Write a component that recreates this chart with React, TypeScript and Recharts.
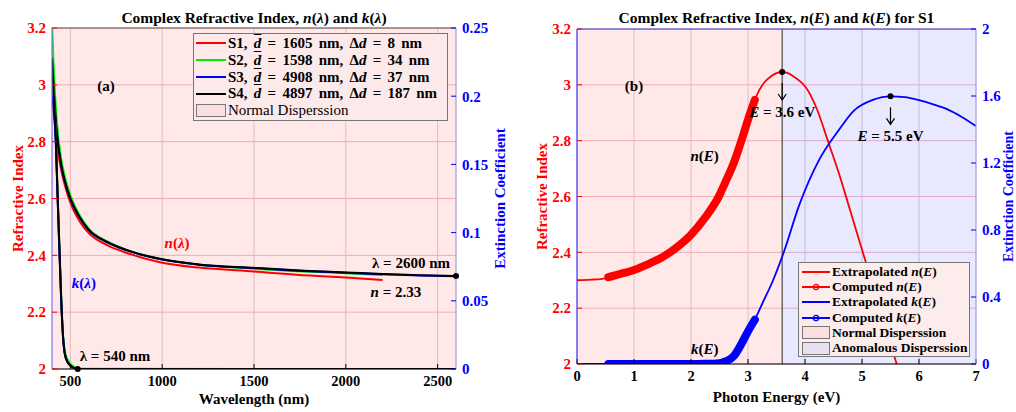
import React from 'react';
import {
  ComposedChart, Line, XAxis, YAxis, CartesianGrid, ReferenceArea,
  ReferenceLine, ReferenceDot, Legend,
} from 'recharts';

const FONT = '"Liberation Serif", "Times New Roman", Times, serif';
const RED = '#ff0000';
const BLUE = '#0000ff';
const GREEN = '#00ee00';
const BLACK = '#000000';

// ---------- Panel (a): n(λ) and k(λ) ----------
const lambdaTicks = [500, 1000, 1500, 2000, 2500];
const nTicks = [2, 2.2, 2.4, 2.6, 2.8, 3, 3.2];
const kTicksA = [0, 0.05, 0.1, 0.15, 0.2, 0.25];

const lamN12 = [400, 410, 425, 450, 475, 500, 550, 600, 700, 800, 1000, 1200, 1500, 1800, 2000, 2200];
const nS1 = [2.95, 2.9, 2.8, 2.7, 2.635, 2.585, 2.52, 2.478, 2.436, 2.41, 2.374, 2.357, 2.343, 2.329, 2.322, 2.313];
const nS2 = [3.22, 3.05, 2.88, 2.74, 2.665, 2.612, 2.542, 2.494, 2.449, 2.421, 2.386, 2.367, 2.353, 2.342, 2.337, 2.331];
const lamN34 = [400, 410, 425, 450, 475, 500, 550, 600, 700, 800, 1000, 1200, 1500, 1800, 2000, 2200, 2400, 2600];
const nS3 = [3.0, 2.95, 2.835, 2.715, 2.647, 2.598, 2.533, 2.488, 2.446, 2.419, 2.385, 2.367, 2.355, 2.344, 2.339, 2.333, 2.329, 2.326];
const nS4 = [3.09, 2.98, 2.84, 2.72, 2.65, 2.6, 2.535, 2.49, 2.447, 2.42, 2.386, 2.368, 2.356, 2.345, 2.34, 2.334, 2.33, 2.327];

const lamK12 = [400, 410, 420, 430, 440, 450, 460, 470, 485, 500, 520, 540, 2200];
const kS1 = [0.225, 0.198, 0.17, 0.128, 0.088, 0.05, 0.023, 0.011, 0.005, 0.0025, 0.0008, 0, 0];
const kS2 = [0.23, 0.2, 0.173, 0.132, 0.092, 0.054, 0.026, 0.013, 0.007, 0.004, 0.0015, 0.0002, 0];
const lamK34 = [400, 410, 420, 430, 440, 450, 460, 470, 485, 500, 520, 540, 2600];
const kS3 = [0.2, 0.19, 0.168, 0.128, 0.089, 0.051, 0.024, 0.011, 0.005, 0.0025, 0.0008, 0, 0];
const kS4 = [0.228, 0.2, 0.172, 0.13, 0.09, 0.052, 0.024, 0.011, 0.005, 0.0025, 0.0008, 0, 0];

const legendA = [
  { name: 'S1', d: '1605', dd: '8', color: RED },
  { name: 'S2', d: '1598', dd: '34', color: GREEN },
  { name: 'S3', d: '4908', dd: '37', color: BLUE },
  { name: 'S4', d: '4897', dd: '187', color: BLACK },
];

// ---------- Panel (b): n(E) and k(E) for S1 ----------
const eTicks = [0, 1, 2, 3, 4, 5, 6, 7];
const kTicksB = [0, 0.4, 0.8, 1.2, 1.6, 2];

const eExt = [0, 0.25, 0.5, 0.75, 1, 1.25, 1.5, 1.75, 2, 2.25, 2.5, 2.75, 3, 3.1, 3.2, 3.3, 3.4, 3.5, 3.6, 3.7, 3.8, 3.9, 4, 4.2, 4.4, 4.6, 4.8, 5, 5.2, 5.4, 5.6, 5.7];
const nExt = [2.3, 2.302, 2.307, 2.322, 2.337, 2.358, 2.383, 2.418, 2.463, 2.525, 2.605, 2.72, 2.875, 2.935, 2.982, 3.012, 3.03, 3.042, 3.046, 3.042, 3.03, 3.015, 2.995, 2.918, 2.8, 2.68, 2.545, 2.41, 2.275, 2.14, 2.005, 1.94];

const eKExt = [0, 0.5, 1, 1.5, 2, 2.25, 2.5, 2.6, 2.75, 2.9, 3, 3.12, 3.25, 3.44, 3.62, 3.9, 4.25, 4.6, 4.85, 5.2, 5.5, 5.75, 6, 6.25, 6.5, 6.75, 7];
const kExt = [0, 0, 0, 0, 0, 0.001, 0.005, 0.015, 0.047, 0.13, 0.195, 0.264, 0.36, 0.5, 0.66, 0.95, 1.22, 1.4, 1.51, 1.578, 1.598, 1.593, 1.575, 1.55, 1.52, 1.475, 1.42];

const eComp = [0.55, 0.75, 1, 1.25, 1.5, 1.75, 2, 2.25, 2.5, 2.6, 2.75, 2.9, 3, 3.12];
const nComp = [2.311, 2.322, 2.337, 2.358, 2.383, 2.418, 2.463, 2.525, 2.605, 2.65, 2.72, 2.81, 2.875, 2.946];
const kComp = [0, 0, 0, 0, 0, 0, 0, 0.001, 0.005, 0.015, 0.047, 0.13, 0.195, 0.264];

const nPeak = { e: 3.6, n: 3.046 };
const kPeak = { e: 5.5, k: 1.598 };
const boundaryE = 3.6;

const legendB = [
  { label: 'Extrapolated', sym: 'n', color: RED, marker: false },
  { label: 'Computed', sym: 'n', color: RED, marker: true },
  { label: 'Extrapolated', sym: 'k', color: BLUE, marker: false },
  { label: 'Computed', sym: 'k', color: BLUE, marker: true },
];

// ---------- helpers ----------
const pts = (xs: number[], ys: number[], key: string) => xs.map((x, i) => ({ x, [key]: ys[i] }));

const PINK_FILL = 'rgba(255,0,0,0.09)';
const LAV_FILL = 'rgba(0,0,255,0.09)';
const txt = { fontFamily: FONT, fontWeight: 700 } as const;

const vLabel = (text: string, color: string, x: number, fallbackCy: number, size = 15) => (props: any) => {
  const vb = props && props.viewBox;
  const cy = vb && typeof vb.y === 'number' && typeof vb.height === 'number' ? vb.y + vb.height / 2 : fallbackCy;
  return (
    <text x={x} y={cy} transform={`rotate(-90 ${x} ${cy})`} textAnchor="middle"
      dominantBaseline="central" fill={color} style={{ ...txt, fontSize: size }}>{text}</text>
  );
};

const textShape = (content: React.ReactNode, color = BLACK, size = 15) => (p: any) => (
  <text x={p.cx} y={p.cy} textAnchor="middle" dominantBaseline="central" fill={color}
    style={{ ...txt, fontSize: size }}>{content}</text>
);

const dotShape = (r: number) => (p: any) => <circle cx={p.cx} cy={p.cy} r={r} fill={BLACK} />;

const peakShape = (label: string) => (p: any) => (
  <g>
    <circle cx={p.cx} cy={p.cy} r={3} fill={BLACK} />
    <path d={`M${p.cx},${p.cy + 11}V${p.cy + 28}M${p.cx - 4},${p.cy + 22}L${p.cx},${p.cy + 28}L${p.cx + 4},${p.cy + 22}`}
      stroke={BLACK} strokeWidth={1.2} fill="none" />
    <text x={p.cx} y={p.cy + 40} textAnchor="middle" dominantBaseline="central" fill={BLACK}
      style={{ ...txt, fontSize: 15 }}>
      <tspan fontStyle="italic">E</tspan> = {label} eV
    </text>
  </g>
);

const LegendBoxA = () => (
  <div style={{ boxSizing: 'border-box', width: 255, height: 88, border: '1px solid #777', background: '#fce9e9', padding: '1px 0 0 2px', fontFamily: FONT, fontWeight: 700, fontSize: 15, color: '#000' }}>
    {legendA.map((s) => (
      <div key={s.name} style={{ display: 'flex', alignItems: 'center', height: 16.8, whiteSpace: 'nowrap' }}>
        <svg width={30} height={10} style={{ marginRight: 2, flex: 'none' }}><line x1={0} y1={5} x2={30} y2={5} stroke={s.color} strokeWidth={2} /></svg>
        <span style={{ wordSpacing: '2.5px' }}>{s.name}, <i style={{ textDecoration: 'overline' }}>d</i> = {s.d} nm, Δ<i>d</i> = {s.dd} nm</span>
      </div>
    ))}
    <div style={{ display: 'flex', alignItems: 'center', height: 16.8, whiteSpace: 'nowrap' }}>
      <div style={{ boxSizing: 'border-box', width: 30, height: 13, border: '1px solid #777', background: '#fbdede', marginRight: 2, flex: 'none' }} />
      <span style={{ fontWeight: 400 }}>Normal Disperssion</span>
    </div>
  </div>
);

const LegendBoxB = () => (
  <div style={{ boxSizing: 'border-box', width: 172, height: 95, border: '1px solid #777', background: '#fcecec', padding: '1px 0 0 3px', fontFamily: FONT, fontWeight: 700, fontSize: 13.5, color: '#000' }}>
    {legendB.map((s, i) => (
      <div key={i} style={{ display: 'flex', alignItems: 'center', height: 15.3, whiteSpace: 'nowrap' }}>
        <svg width={28} height={10} style={{ marginRight: 2, flex: 'none' }}>
          <line x1={0} y1={5} x2={28} y2={5} stroke={s.color} strokeWidth={2} />
          {s.marker ? <circle cx={14} cy={5} r={2.6} fill="none" stroke={s.color} strokeWidth={1.3} /> : null}
        </svg>
        <span>{s.label} <i>{s.sym}</i>(<i>E</i>)</span>
      </div>
    ))}
    <div style={{ display: 'flex', alignItems: 'center', height: 15.3, whiteSpace: 'nowrap' }}>
      <div style={{ boxSizing: 'border-box', width: 28, height: 13, border: '1px solid #777', background: '#fbdede', marginRight: 2, flex: 'none' }} />
      <span>Normal Disperssion</span>
    </div>
    <div style={{ display: 'flex', alignItems: 'center', height: 15.3, whiteSpace: 'nowrap' }}>
      <div style={{ boxSizing: 'border-box', width: 28, height: 13, border: '1px solid #777', background: '#e6e0f0', marginRight: 2, flex: 'none' }} />
      <span>Anomalous Disperssion</span>
    </div>
  </div>
);

const lineCommon = { dot: false, activeDot: false, isAnimationActive: false, type: 'monotone' as const };

function PanelA() {
  return (
    <ComposedChart width={508} height={412} margin={{ top: 28, right: 0, bottom: 0, left: 0 }}>
      <XAxis dataKey="x" type="number" domain={[400, 2600]} ticks={lambdaTicks} allowDataOverflow
        height={43} tickSize={-5} tickMargin={12} stroke={BLACK}
        tick={{ fill: BLACK, ...txt, fontSize: 14.5 }}
        label={{ value: 'Wavelength (nm)', position: 'insideBottom', offset: 8, fill: BLACK, ...txt, fontSize: 15 }} />
      <YAxis yAxisId="left" orientation="left" type="number" domain={[2, 3.2]} ticks={nTicks} allowDataOverflow
        width={52} tickSize={-5} tickMargin={11} axisLine={{ stroke: '#7070ff' }} tickLine={{ stroke: RED }}
        tick={{ fill: RED, ...txt, fontSize: 15 }}
        label={vLabel('Refractive Index', RED, 18, 198)} />
      <YAxis yAxisId="right" orientation="right" type="number" domain={[0, 0.25]} ticks={kTicksA} allowDataOverflow
        width={52} tickSize={-5} tickMargin={11} axisLine={{ stroke: '#a0a0f0' }} tickLine={{ stroke: BLUE }}
        tick={{ fill: BLUE, ...txt, fontSize: 15 }}
        label={vLabel('Extinction Coefficient', BLUE, 500, 198)} />
      <ReferenceArea yAxisId="left" x1={400} x2={2600} y1={2} y2={3.2} fill={PINK_FILL} fillOpacity={1} stroke="none" ifOverflow="visible" />
      <CartesianGrid yAxisId="left" horizontal={false} stroke="#ddd0d0" />
      <CartesianGrid yAxisId="left" vertical={false} stroke="#f5bcbc" />
      <ReferenceLine yAxisId="left" y={3.2} stroke="#555" ifOverflow="visible" />

      <Line yAxisId="left" data={pts(lamN12, nS1, 'n')} dataKey="n" stroke={RED} strokeWidth={2} {...lineCommon} />
      <Line yAxisId="left" data={pts(lamN12, nS2, 'n')} dataKey="n" stroke={GREEN} strokeWidth={2} {...lineCommon} />
      <Line yAxisId="left" data={pts(lamN34, nS3, 'n')} dataKey="n" stroke={BLUE} strokeWidth={2} {...lineCommon} />
      <Line yAxisId="left" data={pts(lamN34, nS4, 'n')} dataKey="n" stroke={BLACK} strokeWidth={2} {...lineCommon} />
      <Line yAxisId="right" data={pts(lamK12, kS1, 'k')} dataKey="k" stroke={RED} strokeWidth={2} {...lineCommon} />
      <Line yAxisId="right" data={pts(lamK12, kS2, 'k')} dataKey="k" stroke={GREEN} strokeWidth={2} {...lineCommon} />
      <Line yAxisId="right" data={pts(lamK34, kS3, 'k')} dataKey="k" stroke={BLUE} strokeWidth={2} {...lineCommon} />
      <Line yAxisId="right" data={pts(lamK34, kS4, 'k')} dataKey="k" stroke={BLACK} strokeWidth={2} {...lineCommon} />

      <ReferenceDot yAxisId="left" x={2600} y={2.327} r={3} shape={dotShape(3)} ifOverflow="visible" />
      <ReferenceDot yAxisId="right" x={540} y={0} r={3} shape={dotShape(3)} ifOverflow="visible" />
      <ReferenceDot yAxisId="left" x={694} y={2.996} r={1} shape={textShape('(a)')} ifOverflow="visible" />
      <ReferenceDot yAxisId="left" x={1081} y={2.443} r={1} ifOverflow="visible"
        shape={textShape(<><tspan fontStyle="italic">n</tspan>(<tspan fontStyle="italic">λ</tspan>)</>, RED)} />
      <ReferenceDot yAxisId="left" x={574} y={2.303} r={1} ifOverflow="visible"
        shape={textShape(<><tspan fontStyle="italic">k</tspan>(<tspan fontStyle="italic">λ</tspan>)</>, BLUE)} />
      <ReferenceDot yAxisId="left" x={2355} y={2.373} r={1} ifOverflow="visible" shape={textShape('λ = 2600 nm')} />
      <ReferenceDot yAxisId="left" x={2273} y={2.271} r={1} ifOverflow="visible"
        shape={textShape(<><tspan fontStyle="italic">n</tspan> = 2.33</>)} />
      <ReferenceDot yAxisId="left" x={743} y={2.046} r={1} ifOverflow="visible" shape={textShape('λ = 540 nm')} />

      <Legend layout="horizontal" verticalAlign="middle" align="center" content={LegendBoxA}
        wrapperStyle={{ left: 193, top: 33, width: 255, height: 88 }} />
    </ComposedChart>
  );
}

function PanelB() {
  return (
    <ComposedChart width={508} height={412} margin={{ top: 29, right: 0, bottom: 0, left: 0 }}>
      <XAxis dataKey="x" type="number" domain={[0, 7]} ticks={eTicks} allowDataOverflow
        height={48} tickSize={-5} tickMargin={12} stroke={BLACK}
        tick={{ fill: BLACK, ...txt, fontSize: 14.5 }}
        label={{ value: 'Photon Energy (eV)', position: 'insideBottom', offset: 10, fill: BLACK, ...txt, fontSize: 15 }} />
      <YAxis yAxisId="left" orientation="left" type="number" domain={[2, 3.2]} ticks={nTicks} allowDataOverflow
        width={69} tickSize={-5} tickMargin={11} axisLine={{ stroke: '#2020ff' }} tickLine={{ stroke: RED }}
        tick={{ fill: RED, ...txt, fontSize: 15 }}
        label={vLabel('Refractive Index', RED, 34, 196)} />
      <YAxis yAxisId="right" orientation="right" type="number" domain={[0, 2]} ticks={kTicksB} allowDataOverflow
        width={40} tickSize={-5} tickMargin={11} axisLine={{ stroke: '#a0a0f0' }} tickLine={{ stroke: BLUE }}
        tick={{ fill: BLUE, ...txt, fontSize: 15 }}
        label={vLabel('Extinction Coefficient', BLUE, 500, 196, 14)} />
      <ReferenceArea yAxisId="left" x1={0} x2={boundaryE} y1={2} y2={3.2} fill={PINK_FILL} fillOpacity={1} stroke="none" ifOverflow="visible" />
      <ReferenceArea yAxisId="left" x1={boundaryE} x2={7} y1={2} y2={3.2} fill={LAV_FILL} fillOpacity={1} stroke="none" ifOverflow="visible" />
      <CartesianGrid yAxisId="left" horizontal={false} stroke="#ddd0d8" />
      <CartesianGrid yAxisId="left" vertical={false} stroke="#f5bcc8" />
      <ReferenceLine yAxisId="left" y={3.2} stroke="#3030c0" ifOverflow="visible" />
      <ReferenceLine yAxisId="left" x={boundaryE} stroke="#555" strokeWidth={1.3} ifOverflow="visible" />

      <Line yAxisId="left" data={pts(eExt, nExt, 'n')} dataKey="n" stroke={RED} strokeWidth={1.8} {...lineCommon} />
      <Line yAxisId="left" data={pts(eComp, nComp, 'n')} dataKey="n" stroke={RED} strokeWidth={8} strokeLinecap="round" {...lineCommon} />
      <Line yAxisId="right" data={pts(eKExt, kExt, 'k')} dataKey="k" stroke={BLUE} strokeWidth={1.8} {...lineCommon} />
      <Line yAxisId="right" data={pts(eComp, kComp, 'k')} dataKey="k" stroke={BLUE} strokeWidth={8} strokeLinecap="round" {...lineCommon} />

      <ReferenceDot yAxisId="left" x={nPeak.e} y={nPeak.n} r={3} shape={peakShape('3.6')} ifOverflow="visible" />
      <ReferenceDot yAxisId="right" x={kPeak.e} y={kPeak.k} r={3} shape={peakShape('5.5')} ifOverflow="visible" />
      <ReferenceDot yAxisId="left" x={1.0} y={2.995} r={1} shape={textShape('(b)')} ifOverflow="visible" />
      <ReferenceDot yAxisId="left" x={2.24} y={2.745} r={1} ifOverflow="visible"
        shape={textShape(<><tspan fontStyle="italic">n</tspan>(<tspan fontStyle="italic">E</tspan>)</>)} />
      <ReferenceDot yAxisId="left" x={2.24} y={2.055} r={1} ifOverflow="visible"
        shape={textShape(<><tspan fontStyle="italic">k</tspan>(<tspan fontStyle="italic">E</tspan>)</>)} />

      <Legend layout="horizontal" verticalAlign="middle" align="center" content={LegendBoxB}
        wrapperStyle={{ left: 290, top: 262, width: 172, height: 95 }} />
    </ComposedChart>
  );
}

export default function App() {
  const titleStyle: React.CSSProperties = {
    position: 'absolute', top: 9, textAlign: 'center', fontFamily: FONT, fontWeight: 700,
    fontSize: 15.5, lineHeight: '17px', color: '#000', whiteSpace: 'nowrap',
  };
  return (
    <div style={{ position: 'absolute', left: 0, top: 0, width: 1016, height: 412, background: '#fff', overflow: 'hidden' }}>
      <div style={{ position: 'absolute', left: 0, top: 0 }}><PanelA /></div>
      <div style={{ position: 'absolute', left: 508, top: 0 }}><PanelB /></div>
      <div style={{ ...titleStyle, left: 52, width: 404 }}>
        Complex Refractive Index, <i>n</i>(<i>λ</i>) and <i>k</i>(<i>λ</i>)
      </div>
      <div style={{ ...titleStyle, left: 577, width: 399 }}>
        Complex Refractive Index, <i>n</i>(<i>E</i>) and <i>k</i>(<i>E</i>) for S1
      </div>
    </div>
  );
}
